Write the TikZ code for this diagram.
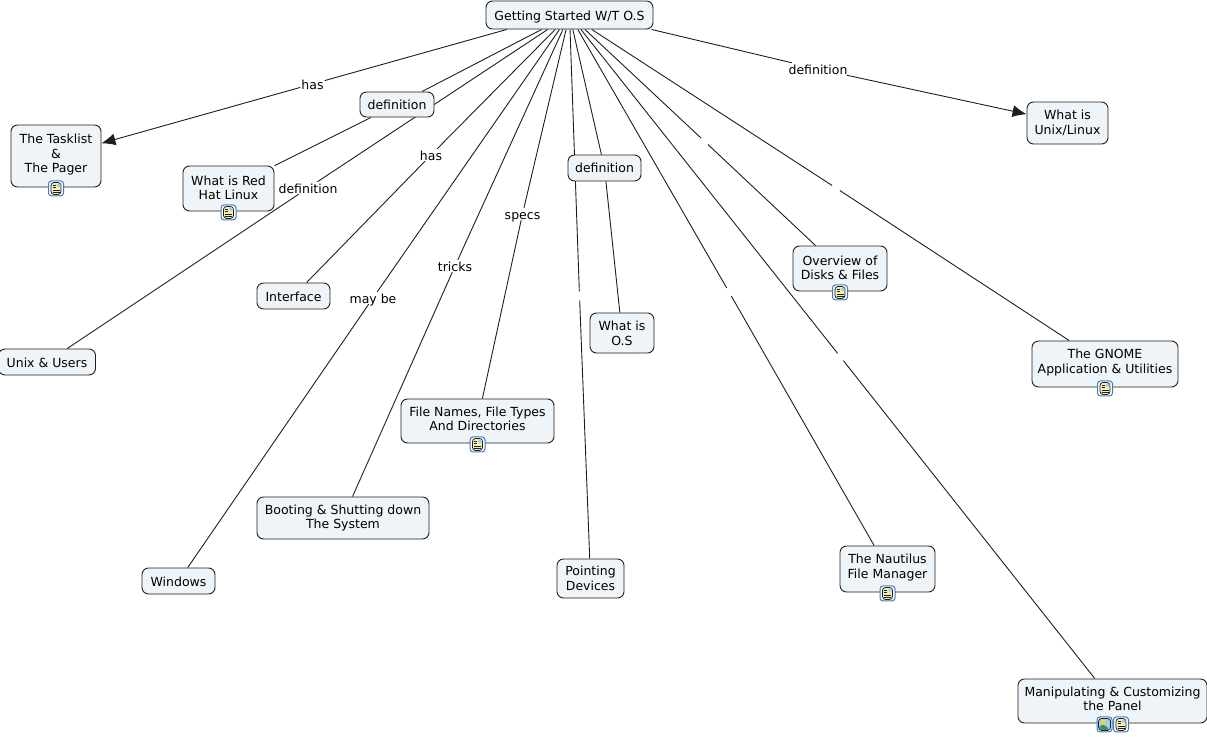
\documentclass[tikz,border=0pt]{standalone}
\usepackage{fontspec}
\setmainfont{DejaVu Sans}
\usepackage{xcolor}
\usetikzlibrary{arrows.meta, positioning, backgrounds}
\definecolor{boxfill}{HTML}{EEF4F7}
\definecolor{boxline}{HTML}{1E1E1E}
\definecolor{iconblue}{HTML}{3F7CC4}
\definecolor{iconpage}{HTML}{F6EFB4}
\definecolor{iconsky}{HTML}{A9CDEB}
\definecolor{iconhill}{HTML}{3F8F55}
\tikzset{
    box/.style={rectangle, draw=boxline, fill=boxfill, line width=0.9pt, rounded corners=6.5pt, inner sep=2pt, align=center, font=\fontsize{12.5}{14.8}\selectfont},
    single/.style={text height=11pt, text depth=1pt},
    raised/.style={text depth=#1},
    linklabel/.style={inner xsep=1pt, inner ysep=0pt, text height=11pt, text depth=1pt, font=\fontsize{12.5}{14.8}\selectfont},
    blank/.style={circle, inner sep=0pt, minimum size=9pt},
    link/.style={line width=0.9pt, draw=boxline},
    arrow/.style={link, -{Latex[length=14pt, width=12pt]}},
    iconbox/.style={rectangle, draw=iconblue, fill=white, line width=1pt, rounded corners=3pt, inner sep=0pt, outer sep=0pt, minimum size=15pt},
    noteicon/.style={iconbox, path picture={
        \begin{scope}[shift={(path picture bounding box.center)}]
            \draw [fill=iconpage, draw=boxline, line width=0.8pt] (-5,-6) rectangle (5,6);
            \fill [iconsky] (0.5,-5.5) rectangle (4.5,-1);
            \draw [boxline, line width=0.9pt] (-3.5,-3.5) -- (-0.5,-3.5) (-3.5,-1) -- (-0.5,-1) (-3.5,1.5) -- (3.5,1.5) (-3.5,3.8) -- (3.5,3.8);
        \end{scope}}},
    photoicon/.style={iconbox, path picture={
        \begin{scope}[shift={(path picture bounding box.center)}]
            \draw [fill=iconsky, draw=boxline, line width=0.8pt] (-6,-6) rectangle (6,6);
            \fill [yellow!80!orange] (-1,-3) circle (2);
            \fill [iconhill] (-5.6,5.6) -- (-5.6,2) -- (-1,-0.5) -- (5.6,5.6) -- cycle;
        \end{scope}}}
}
\begin{document}
\begin{tikzpicture}[x=1pt, y=-1pt, >=stealth]
    \useasboundingbox (0,0) rectangle (1207,736);

    \node (root) [box, single, minimum width=167pt, minimum height=28pt] at (569.5,15) {Getting Started W/T O.S};
    \node (tasklist) [box, raised=5.5pt, minimum width=90pt, minimum height=62pt] at (56,156) {The Tasklist\\\&\\The Pager};
    \node (unixlinux) [box, minimum width=81pt, minimum height=42pt] at (1067.5,123) {What is\\Unix/Linux};
    \node (redhat) [box, raised=1.5pt, minimum width=91pt, minimum height=45pt] at (228.5,188.5) {What is Red\\Hat Linux};
    \node (interface) [box, single, minimum width=73pt, minimum height=26pt] at (293.5,296) {Interface};
    \node (users) [box, single, minimum width=97pt, minimum height=26pt] at (47,362) {Unix \& Users};
    \node (disks) [box, raised=1.5pt, minimum width=94pt, minimum height=45pt] at (840,268.5) {Overview of\\Disks \& Files};
    \node (whatos) [box, minimum width=64pt, minimum height=40pt] at (622,333) {What is\\O.S};
    \node (gnome) [box, raised=6.2pt, minimum width=146pt, minimum height=46pt] at (1105,364) {The GNOME\\Application \& Utilities};
    \node (names) [box, raised=4.5pt, minimum width=153pt, minimum height=44pt] at (477.5,421) {File Names, File Types\\And Directories};
    \node (booting) [box, minimum width=172pt, minimum height=42pt] at (343,518) {Booting \& Shutting down\\The System};
    \node (windows) [box, single, minimum width=73pt, minimum height=26pt] at (178.5,581) {Windows};
    \node (pointing) [box, minimum width=67pt, minimum height=39pt] at (590.5,578.5) {Pointing\\Devices};
    \node (nautilus) [box, raised=6.2pt, minimum width=95pt, minimum height=46pt] at (887.5,569) {The Nautilus\\File Manager};
    \node (panel) [box, raised=4.5pt, minimum width=189pt, minimum height=44pt] at (1112.5,701) {Manipulating \& Customizing\\the Panel};

    \node (defred) [box, minimum width=74pt, minimum height=25pt] at (397,104.5) {definition};
    \node (defos) [box, minimum width=73pt, minimum height=26pt] at (604.5,168) {definition};
    \node (hastask) [linklabel] at (312.5,84) {has};
    \node (defunix) [linklabel] at (818,69) {definition};
    \node (defusers) [linklabel] at (308,188) {definition};
    \node (hasface) [linklabel] at (431,155) {has};
    \node (maybe) [linklabel] at (373,298) {may be};
    \node (tricks) [linklabel] at (455,266) {tricks};
    \node (specs) [linklabel] at (522.5,214) {specs};
    \node (gappoint) [blank] at (579.5,296) {};
    \node (gapnaut) [blank] at (729,292) {};
    \node (gappanel) [blank] at (840.5,357) {};
    \node (gapdisks) [blank] at (704.5,141.3) {};
    \node (gapgnome) [blank] at (836,188) {};

    \node (icontask) [noteicon, below=-6.5pt of tasklist] {};
    \node (iconred) [noteicon, below=-6.5pt of redhat] {};
    \node (icondisks) [noteicon, below=-6.5pt of disks] {};
    \node (icongnome) [noteicon, below=-6.5pt of gnome] {};
    \node (iconnames) [noteicon, below=-6.5pt of names] {};
    \node (iconnaut) [noteicon, below=-6.5pt of nautilus] {};
    \node (iconpanel) [noteicon, below=-6.5pt of panel, xshift=8.5pt] {};
    \node (iconphoto) [photoicon, left=1.5pt of iconpanel] {};

    \begin{scope}[on background layer]
        \draw [link] (root.193) -- (hastask);
        \draw [arrow] (hastask) -- (tasklist);
        \draw [link] (root.-10.6) -- (defunix);
        \draw [arrow] (defunix) -- (unixlinux);
        \draw [link] (root) -- (defred);
        \draw [link] (defred) -- (redhat);
        \draw [link] (root) -- (defusers);
        \draw [link] (defusers) -- (users);
        \draw [link] (root) -- (hasface);
        \draw [link] (hasface) -- (interface);
        \draw [link] (root) -- (maybe);
        \draw [link] (maybe) -- (windows);
        \draw [link] (root) -- (tricks);
        \draw [link] (tricks) -- (booting);
        \draw [link] (root) -- (specs);
        \draw [link] (specs) -- (names);
        \draw [link] (root) -- (gappoint);
        \draw [link] (gappoint) -- (pointing);
        \draw [link] (root) -- (defos);
        \draw [link] (defos) -- (whatos);
        \draw [link] (root) -- (gapnaut);
        \draw [link] (gapnaut) -- (nautilus);
        \draw [link] (root) -- (gappanel);
        \draw [link] (gappanel) -- (panel);
        \draw [link] (root) -- (gapdisks);
        \draw [link] (gapdisks) -- (disks);
        \draw [link] (root) -- (gapgnome);
        \draw [link] (gapgnome) -- (gnome);
    \end{scope}
\end{tikzpicture}
\end{document}
